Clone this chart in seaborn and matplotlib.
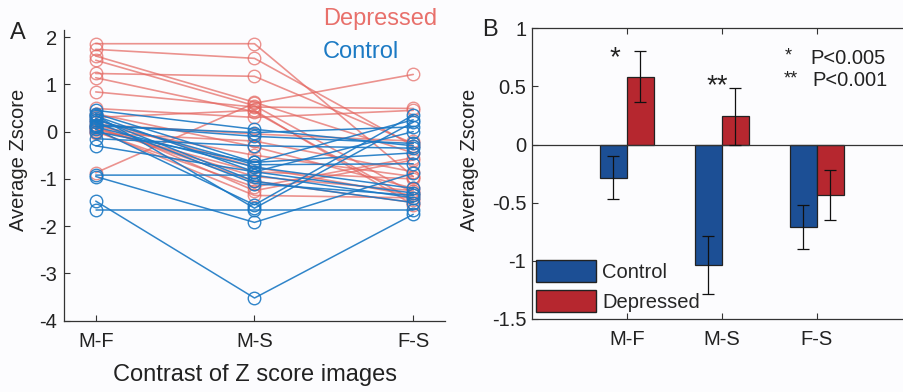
import numpy as np
import pandas as pd
import matplotlib
matplotlib.use("Agg")
import matplotlib.pyplot as plt
from matplotlib.patches import Patch
from matplotlib.ticker import FuncFormatter
import seaborn as sns

# ---------------- data ----------------
contrasts = ["M-F", "M-S", "F-S"]

# Panel A: individual subjects (Average Zscore per contrast)
dep_mf = [1.86, 1.74, 1.60, 1.51, 1.23, 1.14, 0.84, 0.49, 0.38, 0.25, 0.15, 0.10,
          0.05, 0.02, 0.00, -0.03, 0.08, -0.87, 0.12, 0.30, 0.20]
dep_ms = [1.86, 1.55, 0.62, 0.55, 1.17, 0.42, 0.52, 0.30, -0.32, -0.75, -0.05, -1.05,
          -0.85, -1.35, -1.17, -0.20, -0.95, 0.60, -0.50, 0.45, -1.25]
dep_fs = [-0.95, -0.30, -0.45, -1.30, -0.25, -1.45, 0.49, 0.45, -1.20, -1.35, -0.20, -1.50,
          -1.00, -1.40, -0.55, -0.85, -1.25, 1.21, -0.95, -1.55, -0.60]

ctl_mf = [0.45, 0.38, 0.33, 0.28, 0.25, 0.20, 0.15, 0.10, 0.05, -0.15, -0.30,
          -0.92, -0.95, -1.47, -1.65, 0.35, 0.00, 0.12]
ctl_ms = [0.05, -0.65, -0.85, -1.05, -0.70, -1.10, -0.10, -0.75, -1.55, -0.30, -0.85,
          -0.92, -1.92, -3.52, -1.65, -1.62, -0.65, -0.02]
ctl_fs = [-0.30, -0.45, -1.30, -1.50, -0.68, -1.35, -0.25, -1.20, 0.35, -0.35, 0.00,
          -1.40, -0.88, -1.75, -1.65, 0.20, 0.25, 0.10]

# Panel B: group means and errors
groups = ["Control", "Depressed"]
ctl_mean = [-0.285, -1.035, -0.71]
ctl_err = [0.185, 0.25, 0.19]
dep_mean = [0.585, 0.245, -0.435]
dep_err = [0.22, 0.245, 0.215]

yticks_A = [-4, -3, -2, -1, 0, 1, 2]
yticks_B = [-1.5, -1, -0.5, 0, 0.5, 1]

# ---------------- styling ----------------
sns.set_theme(style="white")
plt.rcParams["font.family"] = ["Liberation Sans", "DejaVu Sans"]
plt.rcParams["axes.unicode_minus"] = False

red_line = "#E4655F"
blue_line = "#1A78C4"
bar_blue = "#1C4F95"
bar_red = "#B6272F"
spine_c = "#333333"
text_c = "#222222"
bg = "#FCFCFE"

fig = plt.figure(figsize=(9.04, 3.92), dpi=100, facecolor=bg)
axA = fig.add_axes([64 / 904, 1 - 320.7 / 392, (445 - 64) / 904, (320.7 - 30) / 392])
axB = fig.add_axes([531.7 / 904, 1 - 319 / 392, 380 / 904, (319 - 28.3) / 392])
for ax in (axA, axB):
    ax.set_facecolor(bg)

# ---------------- Panel A ----------------
def long_df(mf, ms, fs, label):
    rows = []
    for i, vals in enumerate(zip(mf, ms, fs)):
        for c, v in zip(contrasts, vals):
            rows.append({"subject": f"{label}{i}", "group": label, "contrast": c, "z": v})
    return pd.DataFrame(rows)

dfD = long_df(dep_mf, dep_ms, dep_fs, "Depressed")
dfC = long_df(ctl_mf, ctl_ms, ctl_fs, "Control")

sns.lineplot(data=dfD, x="contrast", y="z", units="subject", estimator=None,
             color=red_line, marker="o", lw=1.2, alpha=0.7, ax=axA, legend=False, sort=False)
sns.lineplot(data=dfC, x="contrast", y="z", units="subject", estimator=None,
             color=blue_line, marker="o", lw=1.1, alpha=0.9, ax=axA, legend=False, sort=False)
for ln in axA.lines:
    c = ln.get_color()
    ln.set_markerfacecolor("none")
    ln.set_markeredgecolor(c)
    ln.set_markersize(9)
    ln.set_markeredgewidth(1.0)

axA.set_xlim(-0.2, 2.2)
axA.set_ylim(-4, 2.15)
axA.set_yticks(yticks_A)
axA.set_xlabel("")
axA.set_ylabel("")
axA.spines["top"].set_visible(False)
axA.spines["right"].set_visible(False)
for s in ("left", "bottom"):
    axA.spines[s].set_color(spine_c)
    axA.spines[s].set_linewidth(0.9)
axA.tick_params(axis="both", direction="in", length=4, width=0.8, color=spine_c,
                labelsize=14.5, labelcolor=text_c, left=True, bottom=True)
axA.tick_params(axis="x", pad=8)
axA.tick_params(axis="y", pad=5)

fig.text(323 / 904, 1 - 19 / 392, "Depressed", color="#E8706B", fontsize=17,
         ha="left", va="center")
fig.text(323 / 904, 1 - 51.5 / 392, "Control", color="#1C7AC4", fontsize=17,
         ha="left", va="center")
fig.text(18.5 / 904, 1 - 160 / 392, "Average Zscore", rotation=90, fontsize=14.5,
         color=text_c, ha="center", va="center")
fig.text(255 / 904, 1 - 375 / 392, "Contrast of Z score images", fontsize=17,
         color=text_c, ha="center", va="center")
fig.text(18 / 904, 1 - 33 / 392, "A", fontsize=17, color=text_c, ha="center", va="center")

# ---------------- Panel B ----------------
dfB = pd.DataFrame({
    "contrast": contrasts * 2,
    "group": [groups[0]] * 3 + [groups[1]] * 3,
    "mean": ctl_mean + dep_mean,
    "err": ctl_err + dep_err,
})
sns.barplot(data=dfB, x="contrast", y="mean", hue="group", hue_order=groups,
            palette=[bar_blue, bar_red], width=0.57, edgecolor="#222222",
            linewidth=0.9, errorbar=None, ax=axB, legend=False, saturation=1)

for cont, errs in zip(axB.containers, [ctl_err, dep_err]):
    for bar, e in zip(cont, errs):
        x = bar.get_x() + bar.get_width() / 2
        y = bar.get_y() + bar.get_height()
        axB.errorbar(x, y, yerr=e, color="#111111", lw=0.9, capsize=4.5,
                     capthick=0.9, zorder=5)

axB.axhline(0, color=spine_c, lw=0.9, zorder=4)
axB.set_xlim(-1, 3)
axB.set_ylim(-1.5, 1)
axB.set_yticks(yticks_B)
axB.yaxis.set_major_formatter(FuncFormatter(lambda v, p: f"{v:g}"))
axB.set_xlabel("")
axB.set_ylabel("")
for s in axB.spines.values():
    s.set_color(spine_c)
    s.set_linewidth(0.9)
axB.spines["right"].set_visible(False)
axB.tick_params(axis="both", direction="in", length=4, width=0.8, color=spine_c,
                labelsize=14.5, labelcolor=text_c, left=True, bottom=True, top=True, right=False)
axB.tick_params(axis="x", pad=8)
axB.tick_params(axis="y", pad=4)

axB.legend(handles=[Patch(facecolor=bar_blue, edgecolor="#222222", label="Control"),
                    Patch(facecolor=bar_red, edgecolor="#222222", label="Depressed")],
           loc="lower left", bbox_to_anchor=(0.0105, 0.024), frameon=False, fontsize=14.5,
           handlelength=3.0, handleheight=1.3, labelspacing=0.4, handletextpad=0.3,
           borderpad=0, borderaxespad=0)

axB.text(-0.12, 0.74, "*", fontsize=20, ha="center", va="center", color=text_c)
axB.text(0.95, 0.50, "**", fontsize=20, ha="center", va="center", color=text_c)
fig.text(785 / 904, 1 - 56 / 392, "*", fontsize=13, ha="left", va="center", color=text_c)
fig.text(810 / 904, 1 - 58.3 / 392, "P<0.005", fontsize=14.5, ha="left", va="center", color=text_c)
fig.text(784 / 904, 1 - 79 / 392, "**", fontsize=13, ha="left", va="center", color=text_c)
fig.text(812.7 / 904, 1 - 80.3 / 392, "P<0.001", fontsize=14.5, ha="left", va="center", color=text_c)

fig.text(470 / 904, 1 - 160 / 392, "Average Zscore", rotation=90, fontsize=14.5,
         color=text_c, ha="center", va="center")
fig.text(490 / 904, 1 - 30 / 392, "B", fontsize=17, color=text_c, ha="center", va="center")

fig.savefig("out.png", dpi=100, facecolor=bg)
